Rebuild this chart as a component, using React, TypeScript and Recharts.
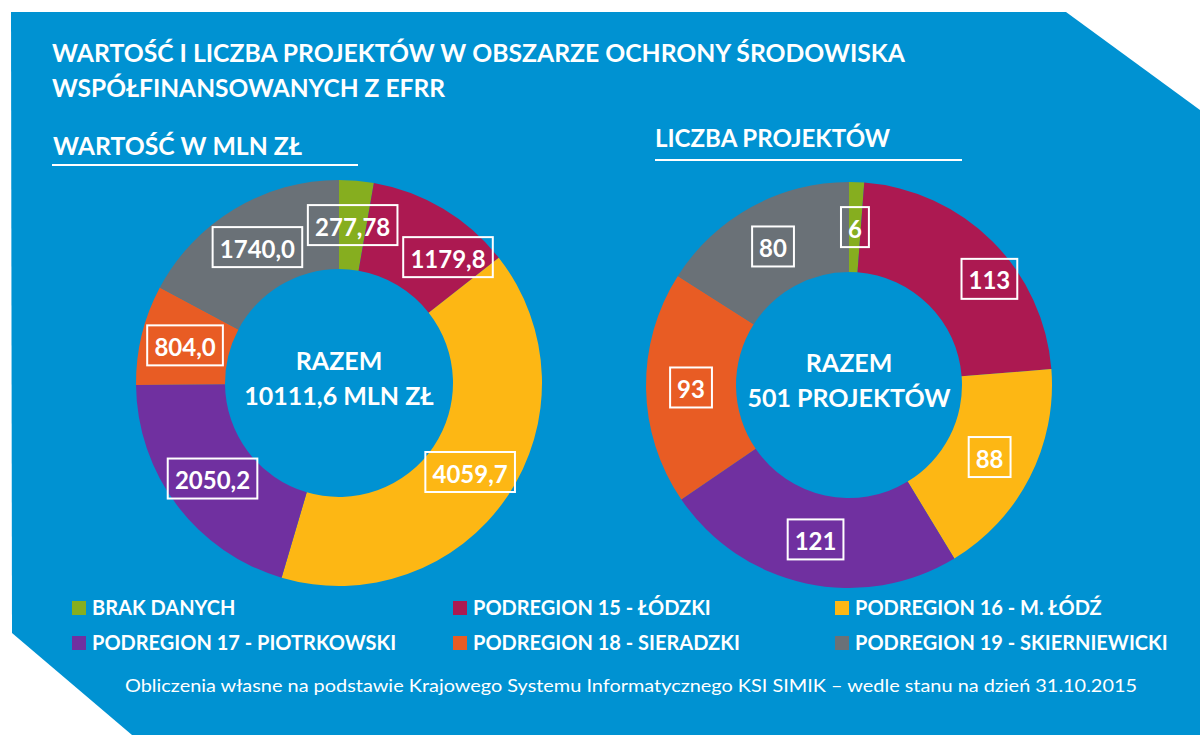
import React from 'react';
import { PieChart, Pie, Cell } from 'recharts';

const categories = [
  'BRAK DANYCH',
  'PODREGION 15 - ŁÓDZKI',
  'PODREGION 16 - M. ŁÓDŹ',
  'PODREGION 17 - PIOTRKOWSKI',
  'PODREGION 18 - SIERADZKI',
  'PODREGION 19 - SKIERNIEWICKI',
];
const colors = ['#86AE1F', '#AC1951', '#FDB714', '#7030A0', '#E85C24', '#6A7177'];

const valueMln = [277.78, 1179.8, 4059.7, 2050.2, 804.0, 1740.0];
const valueLabels = ['277,78', '1179,8', '4059,7', '2050,2', '804,0', '1740,0'];

const projectCount = [6, 113, 88, 121, 93, 80];
const projectLabels = ['6', '113', '88', '121', '93', '80'];

const valueData = categories.map((name, i) => ({ name, value: valueMln[i], label: valueLabels[i] }));
const countData = categories.map((name, i) => ({ name, value: projectCount[i], label: projectLabels[i] }));

const BG = '#0092D2';
const FONT = 'Lato, "Open Sans", sans-serif';
const RADIAN = Math.PI / 180;

// a few labels are nudged in the original: [angle shift in deg, radius shift in px]
const valueNudge: Record<number, [number, number]> = { 1: [-10, 8] };
const countNudge: Record<number, [number, number]> = { 1: [-8, 18] };

// rough glyph widths for Lato bold, in em
function textWidth(s: string, size: number) {
  let w = 0;
  for (const ch of s) w += ch === ',' ? 0.25 : 0.58;
  return w * size;
}

function makeLabel(nudge: Record<number, [number, number]>) {
  return function BoxLabel(props: any) {
    const { cx, cy, midAngle, innerRadius, outerRadius, payload, index } = props;
    const [da, dr] = nudge[index] ?? [0, 0];
    const r = (innerRadius + outerRadius) / 2 + dr;
    const a = midAngle + da;
    const x = cx + r * Math.cos(-a * RADIAN);
    const y = cy + r * Math.sin(-a * RADIAN);
    const text = payload.label as string;
    const w = textWidth(text, 24) + 14;
    const h = 40;
    return (
      <g>
        <rect x={x - w / 2} y={y - h / 2} width={w} height={h} fill="none" stroke="#fff" strokeWidth={2} />
        <text x={x} y={y + 1} fill="#fff" fontFamily={FONT} fontWeight={700} fontSize={24}
          textAnchor="middle" dominantBaseline="central">{text}</text>
      </g>
    );
  };
}

const legendCols = [72, 453, 835];
const legendRows = [615, 650];

export default function App() {
  return (
    <div style={{ position: 'absolute', left: 0, top: 0, width: 1200, height: 735, background: '#fff', overflow: 'hidden' }}>
      <svg width={1200} height={735} style={{ position: 'absolute', left: 0, top: 0 }}>
        <polygon points="11,12 1066,12 1200,110 1200,735 132,735 12,633" fill={BG} />
        <text x={52} y={62} fill="#fff" fontFamily={FONT} fontWeight={700} fontSize={24}
          textLength={853} lengthAdjust="spacingAndGlyphs">WARTOŚĆ I LICZBA PROJEKTÓW W OBSZARZE OCHRONY ŚRODOWISKA</text>
        <text x={52} y={97} fill="#fff" fontFamily={FONT} fontWeight={700} fontSize={24}
          textLength={393} lengthAdjust="spacingAndGlyphs">WSPÓŁFINANSOWANYCH Z EFRR</text>

        <text x={53} y={155} fill="#fff" fontFamily={FONT} fontWeight={700} fontSize={24}
          textLength={249} lengthAdjust="spacingAndGlyphs">WARTOŚĆ W MLN ZŁ</text>
        <line x1={52} x2={358} y1={165} y2={165} stroke="#fff" strokeWidth={2} />
        <text x={655} y={147} fill="#fff" fontFamily={FONT} fontWeight={700} fontSize={24}
          textLength={235} lengthAdjust="spacingAndGlyphs">LICZBA PROJEKTÓW</text>
        <line x1={655} x2={962} y1={160} y2={160} stroke="#fff" strokeWidth={2} />

        <g fill="#fff" fontFamily={FONT} fontWeight={700} fontSize={25} textAnchor="middle">
          <text x={339} y={370}>RAZEM</text>
          <text x={339} y={405}>10111,6 MLN ZŁ</text>
          <text x={849} y={372}>RAZEM</text>
          <text x={849} y={407}>501 PROJEKTÓW</text>
        </g>

        {categories.map((name, i) => {
          const x = legendCols[i % 3];
          const y = legendRows[Math.floor(i / 3)];
          return (
            <g key={name}>
              <rect x={x} y={y - 14} width={14} height={14} fill={colors[i]} />
              <text x={x + 20} y={y} fill="#fff" fontFamily={FONT} fontWeight={700} fontSize={20}>{name}</text>
            </g>
          );
        })}

        <text x={125} y={692} fill="#fff" fontFamily={FONT} fontSize={17}
          textLength={1012} lengthAdjust="spacingAndGlyphs">Obliczenia własne na podstawie Krajowego Systemu Informatycznego KSI SIMIK – wedle stanu na dzień 31.10.2015</text>
      </svg>

      <div style={{ position: 'absolute', left: 0, top: 0 }}>
        <PieChart width={1200} height={735} margin={{ top: 0, right: 0, bottom: 0, left: 0 }}>
          <Pie data={valueData} dataKey="value" nameKey="name" cx={339} cy={383}
            innerRadius={114} outerRadius={203} startAngle={90} endAngle={-270}
            stroke="none" label={makeLabel(valueNudge)} labelLine={false} isAnimationActive={false}>
            {valueData.map((d, i) => <Cell key={d.name} fill={colors[i]} />)}
          </Pie>
          <Pie data={countData} dataKey="value" nameKey="name" cx={849} cy={385}
            innerRadius={113} outerRadius={203} startAngle={90} endAngle={-270}
            stroke="none" label={makeLabel(countNudge)} labelLine={false} isAnimationActive={false}>
            {countData.map((d, i) => <Cell key={d.name} fill={colors[i]} />)}
          </Pie>
        </PieChart>
      </div>
    </div>
  );
}
